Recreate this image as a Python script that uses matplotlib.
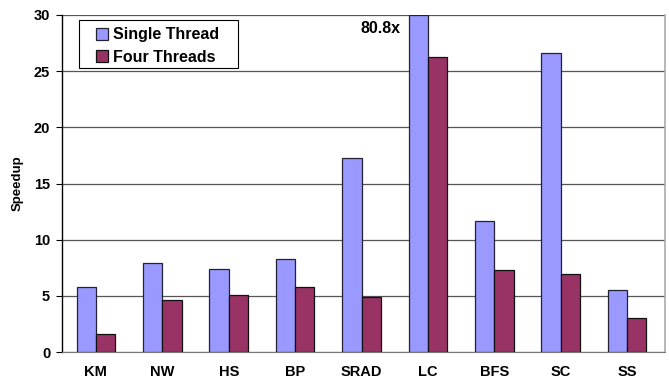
import matplotlib
matplotlib.use("Agg")
import matplotlib.pyplot as plt
from matplotlib.patches import Rectangle
import numpy as np

plt.rcParams['font.family'] = ['Liberation Sans', 'DejaVu Sans']
plt.rcParams['font.weight'] = 'bold'

benchmarks = ['KM', 'NW', 'HS', 'BP', 'SRAD', 'LC', 'BFS', 'SC', 'SS']
single_thread = [5.8, 7.9, 7.4, 8.3, 17.3, 80.8, 11.7, 26.6, 5.5]
four_threads = [1.6, 4.6, 5.1, 5.8, 4.9, 26.3, 7.3, 6.95, 3.0]
y_max = 30

fig = plt.figure(figsize=(6.69, 3.79), dpi=100)
ax = fig.add_axes([62 / 669, 27 / 379, (665 - 62) / 669, (352 - 15) / 379])

x = np.arange(len(benchmarks))
w = 0.29
ax.bar(x - w / 2, np.minimum(single_thread, y_max), w, color='#9999FF',
       edgecolor='#222233', linewidth=0.9, label='Single Thread', zorder=3)
ax.bar(x + w / 2, four_threads, w, color='#993366',
       edgecolor='#111111', linewidth=0.9, label='Four Threads', zorder=3)

# LC single-thread bar goes off the chart, so its value is written in
ax.text(4.28, 28.8, '%.1fx' % single_thread[5], ha='center', va='center',
        fontsize=11.5, fontweight='bold')

ax.set_xlim(-0.51, 8.57)
ax.set_ylim(0, y_max)
ax.set_yticks(range(0, 31, 5))
ax.set_xticks(x)
ax.set_xticklabels(benchmarks, fontsize=10.5, fontweight='bold')
ax.tick_params(axis='x', length=0, pad=9)
ax.tick_params(axis='y', length=4, width=0.8, labelsize=10.5, pad=4.5)
ax.set_ylabel('Speedup', fontsize=9.5, fontweight='bold', labelpad=7)

ax.yaxis.grid(True, color='#555555', linewidth=0.9, zorder=0)
ax.set_axisbelow(True)
ax.spines['top'].set_visible(False)
ax.spines['right'].set_color('#aaaaaa')
ax.spines['right'].set_linewidth(1.2)
ax.spines['bottom'].set_color('#777777')
ax.spines['left'].set_color('black')
ax.spines['left'].set_linewidth(1.0)

# legend box drawn separately to get the wide padding of the original
ax.add_patch(Rectangle((0.0282, 0.8427), 0.2637, 0.1423, transform=ax.transAxes,
                       facecolor='white', edgecolor='black', linewidth=0.8,
                       zorder=4))
leg = ax.legend(loc='upper left', bbox_to_anchor=(0.056, 0.963),
                frameon=False, handlelength=0.75, handleheight=0.75,
                handletextpad=0.3, borderpad=0, labelspacing=0.45,
                borderaxespad=0, prop={'weight': 'bold', 'size': 11.5})
leg.set_zorder(5)

fig.savefig('out.png', dpi=100)
